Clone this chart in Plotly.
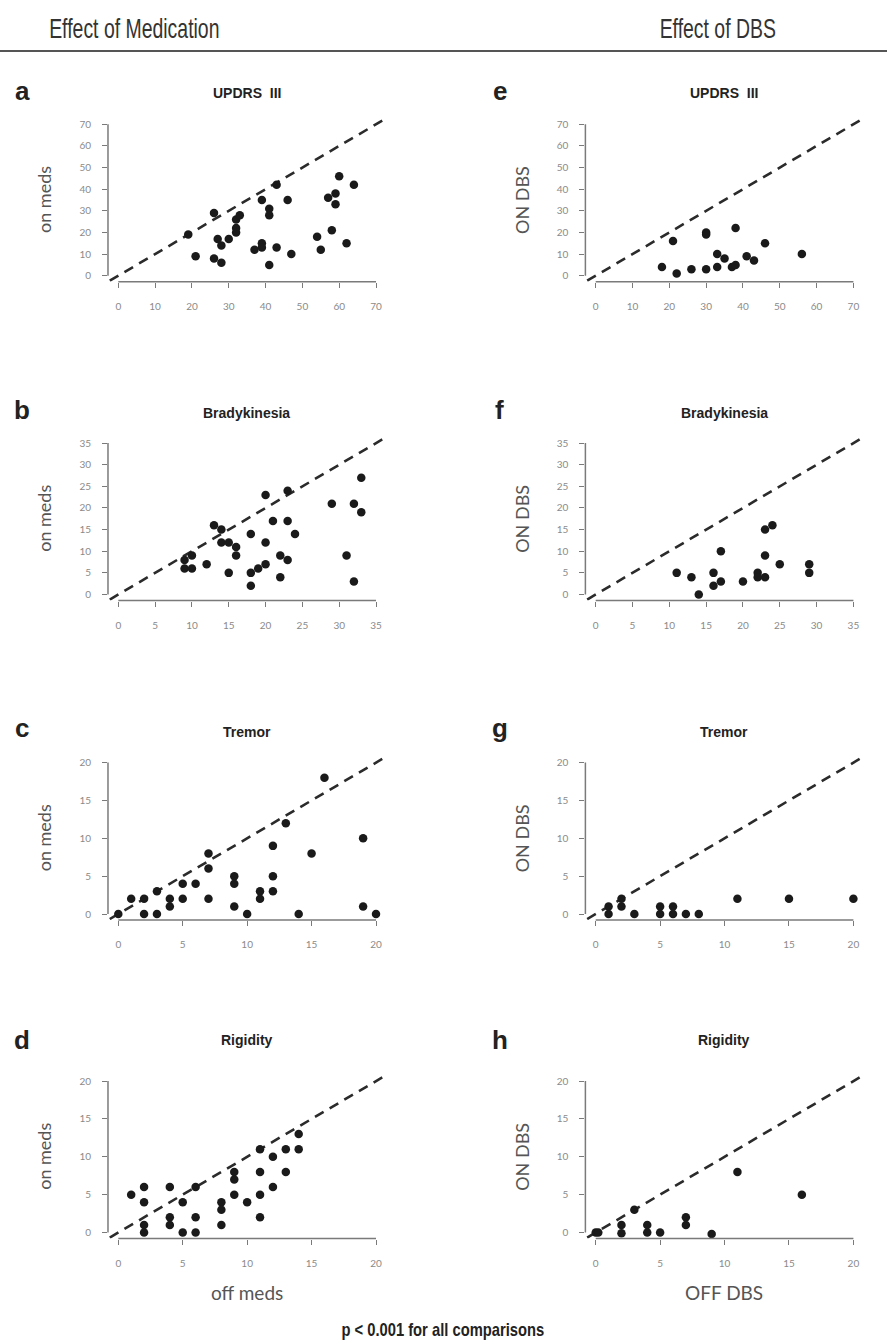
import plotly.graph_objects as go

W, H = 887, 1344

# ---------------- data ----------------
# a: UPDRS III, medication
a_off = [19, 21, 26, 26, 27, 28, 28, 30, 32, 33, 32, 32, 37, 39, 39, 39, 41, 41, 41, 43, 43, 46, 47, 54, 55, 57, 58, 59, 59, 60, 62, 64]
a_on = [19, 9, 29, 8, 17, 14, 6, 17, 26, 28, 22, 20, 12, 35, 15, 13, 31, 28, 5, 42, 13, 35, 10, 18, 12, 36, 21, 38, 33, 46, 15, 42]
# b: Bradykinesia, medication
b_off = [9, 10, 9, 10, 12, 13, 14, 14, 15, 16, 16, 15, 18, 18, 18, 19, 20, 20, 20, 21, 22, 22, 23, 23, 23, 24, 29, 31, 32, 32, 33, 33]
b_on = [8, 9, 6, 6, 7, 16, 15, 12, 12, 11, 9, 5, 14, 5, 2, 6, 23, 12, 7, 17, 9, 4, 24, 17, 8, 14, 21, 9, 21, 3, 27, 19]
# c: Tremor, medication
c_off = [0, 1, 2, 2, 3, 3, 4, 4, 5, 5, 6, 7, 7, 7, 9, 9, 9, 10, 11, 11, 12, 12, 12, 13, 14, 15, 16, 19, 19, 20]
c_on = [0, 2, 2, 0, 3, 0, 2, 1, 4, 2, 4, 8, 6, 2, 5, 4, 1, 0, 3, 2, 9, 5, 3, 12, 0, 8, 18, 10, 1, 0]
# d: Rigidity, medication
d_off = [1, 2, 2, 2, 2, 4, 4, 4, 5, 5, 6, 6, 6, 8, 8, 8, 9, 9, 9, 10, 11, 11, 11, 11, 12, 12, 13, 13, 14, 14]
d_on = [5, 6, 4, 1, 0, 6, 2, 1, 4, 0, 6, 2, 0, 4, 3, 1, 8, 7, 5, 4, 11, 8, 5, 2, 10, 6, 11, 8, 13, 11]
# e: UPDRS III, DBS
e_off = [18, 21, 22, 26, 30, 30, 30, 33, 33, 35, 37, 38, 38, 41, 43, 46, 56]
e_on = [4, 16, 1, 3, 20, 19, 3, 10, 4, 8, 4, 5, 22, 9, 7, 15, 10]
# f: Bradykinesia, DBS
f_off = [11, 13, 14, 16, 16, 17, 17, 20, 22, 22, 23, 23, 23, 24, 25, 29, 29]
f_on = [5, 4, 0, 5, 2, 10, 3, 3, 5, 4, 4, 15, 9, 16, 7, 7, 5]
# g: Tremor, DBS
g_off = [1, 1, 2, 2, 3, 5, 5, 6, 6, 7, 8, 11, 15, 20]
g_on = [0, 1, 1, 2, 0, 0, 1, 1, 0, 0, 0, 2, 2, 2]
# h: Rigidity, DBS
h_off = [0, 0.2, 2, 2, 3, 4, 4, 5, 7, 7, 9, 11, 16]
h_on = [0, 0, 1, -0.1, 3, 1, 0, 0, 2, 1, -0.2, 8, 5]

letters = ["a", "b", "c", "d", "e", "f", "g", "h"]
titles = ["UPDRS\u00a0\u00a0III", "Bradykinesia", "Tremor", "Rigidity"] * 2
axis_max = [70, 35, 20, 20, 70, 35, 20, 20]
axis_step = [10, 5, 5, 5, 10, 5, 5, 5]
y_titles = ["on meds"] * 4 + ["ON DBS"] * 4
x_titles = ["off meds", "OFF DBS"]
header_titles = ["Effect of Medication", "Effect of DBS"]
footer = "p < 0.001 for all comparisons"
series = [(a_off, a_on), (b_off, b_on), (c_off, c_on), (d_off, d_on),
          (e_off, e_on), (f_off, f_on), (g_off, g_on), (h_off, h_on)]

# ---------------- layout geometry (pixels) ----------------
col_x0 = [118.3, 595.7]     # pixel of data 0 on x axis
col_xlen = 257.7            # pixel length from 0 to max
row_y0 = [275.7, 594.5, 914.0, 1232.5]  # pixel of data 0 on y axis
row_ylen = 151.4
title_y = [93, 413, 732, 1040]
letter_y = [91, 410, 728, 1040]
col_title_x = [247, 724]
col_letter_x = [22, 500]
col_ytitle_x = [44, 522]

def px(x):
    return x / W

def py(y):
    return 1 - y / H

SANS = "Liberation Sans, Arial, sans-serif"
LIGHT = "Lato, Open Sans, sans-serif"

fig = go.Figure()
layout = dict(
    width=W, height=H, margin=dict(l=0, r=0, t=0, b=0),
    paper_bgcolor="white", plot_bgcolor="white", showlegend=False,
)
shapes = []
annotations = []

for i in range(8):
    col = i // 4
    row = i % 4
    n = i + 1
    xa = "xaxis" if n == 1 else f"xaxis{n}"
    ya = "yaxis" if n == 1 else f"yaxis{n}"
    xr = "x" if n == 1 else f"x{n}"
    yr = "y" if n == 1 else f"y{n}"
    m = axis_max[i]
    ext = 0.04
    x0p = col_x0[col]
    x_left = x0p - ext * col_xlen
    x_right = x0p + col_xlen + ext * col_xlen
    y0p = row_y0[row]
    y_bottom = y0p + ext * row_ylen
    y_top = y0p - row_ylen - ext * row_ylen
    ticks = list(range(0, m + 1, axis_step[i]))
    common = dict(
        range=[-ext * m, m * (1 + ext)], showgrid=False, zeroline=False,
        showline=False, ticks="outside", ticklen=5, tickwidth=1.3,
        tickcolor="#7a7a7a", tickvals=ticks,
        tickfont=dict(family=LIGHT, size=10, color="#8a8a8a"),
        fixedrange=True,
    )
    layout[xa] = dict(common, domain=[px(x_left), px(x_right)], anchor=yr,
                      ticklabelstandoff=10)
    layout[ya] = dict(common, domain=[py(y_bottom), py(y_top)], anchor=xr,
                      ticklabelstandoff=9)

    # identity line
    fig.add_trace(go.Scatter(
        x=[-m, 2 * m], y=[-m, 2 * m], mode="lines",
        line=dict(color="#2b2b2b", width=2.6, dash="10px,7px"),
        xaxis=xr, yaxis=yr, hoverinfo="skip"))
    xs, ys = series[i]
    fig.add_trace(go.Scatter(
        x=xs, y=ys, mode="markers",
        marker=dict(color="#1a1a1a", size=8.5),
        xaxis=xr, yaxis=yr, cliponaxis=False))

    # axis lines spanning first to last tick (base R style)
    shapes.append(dict(type="line", xref=xr, yref=f"{yr} domain",
                       x0=0, x1=m, y0=0, y1=0,
                       line=dict(color="#7a7a7a", width=1.5)))
    shapes.append(dict(type="line", xref=f"{xr} domain", yref=yr,
                       x0=0, x1=0, y0=0, y1=m,
                       line=dict(color="#7a7a7a", width=1.5)))

    annotations.append(dict(text=f"<b>{titles[i]}</b>", x=px(col_title_x[col]),
                            y=py(title_y[row]), xref="paper", yref="paper",
                            showarrow=False, xanchor="center", yanchor="middle",
                            font=dict(family=SANS, size=14, color="#222")))
    annotations.append(dict(text=f"<b>{letters[i]}</b>", x=px(col_letter_x[col]),
                            y=py(letter_y[row]), xref="paper", yref="paper",
                            showarrow=False, xanchor="center", yanchor="middle",
                            font=dict(family=SANS, size=26, color="#222")))
    annotations.append(dict(text=y_titles[i], x=px(col_ytitle_x[col]),
                            y=py(y0p - row_ylen / 2), xref="paper", yref="paper",
                            showarrow=False, textangle=-90,
                            xanchor="center", yanchor="middle",
                            font=dict(family=LIGHT, size=18, color="#555")))

for c in range(2):
    annotations.append(dict(text=x_titles[c], x=px(col_title_x[c]), y=py(1292),
                            xref="paper", yref="paper", showarrow=False,
                            xanchor="center", yanchor="middle",
                            font=dict(family=LIGHT, size=19, color="#555")))
    annotations.append(dict(text=header_titles[c], x=px([134, 718][c]), y=py(29),
                            xref="paper", yref="paper", showarrow=False,
                            xanchor="center", yanchor="middle",
                            font=dict(family=SANS, size=27, color="#333")))

annotations.append(dict(text=f"<b>{footer}</b>", x=px(443), y=py(1330),
                        xref="paper", yref="paper", showarrow=False,
                        xanchor="center", yanchor="middle",
                        font=dict(family=SANS, size=18, color="#222")))

shapes.append(dict(type="line", xref="paper", yref="paper", x0=0, x1=1,
                   y0=py(51), y1=py(51), line=dict(color="#555", width=2)))

layout["shapes"] = shapes
layout["annotations"] = annotations
fig.update_layout(**layout)

# condensed look for header/footer text (no condensed font installed)
post = """
document.querySelectorAll('text.annotation-text').forEach(function(t){
  var s = t.textContent;
  var k = null;
  if (s.indexOf('Effect of') === 0) { k = 0.72; }
  else if (s.indexOf('p < 0.001') === 0) { k = 0.82; }
  if (k) {
    t.style.transformBox = 'fill-box';
    t.style.transformOrigin = 'center';
    t.style.transform = 'scaleX(' + k + ')';
  }
});
"""
fig.write_html("out.html", post_script=post)
